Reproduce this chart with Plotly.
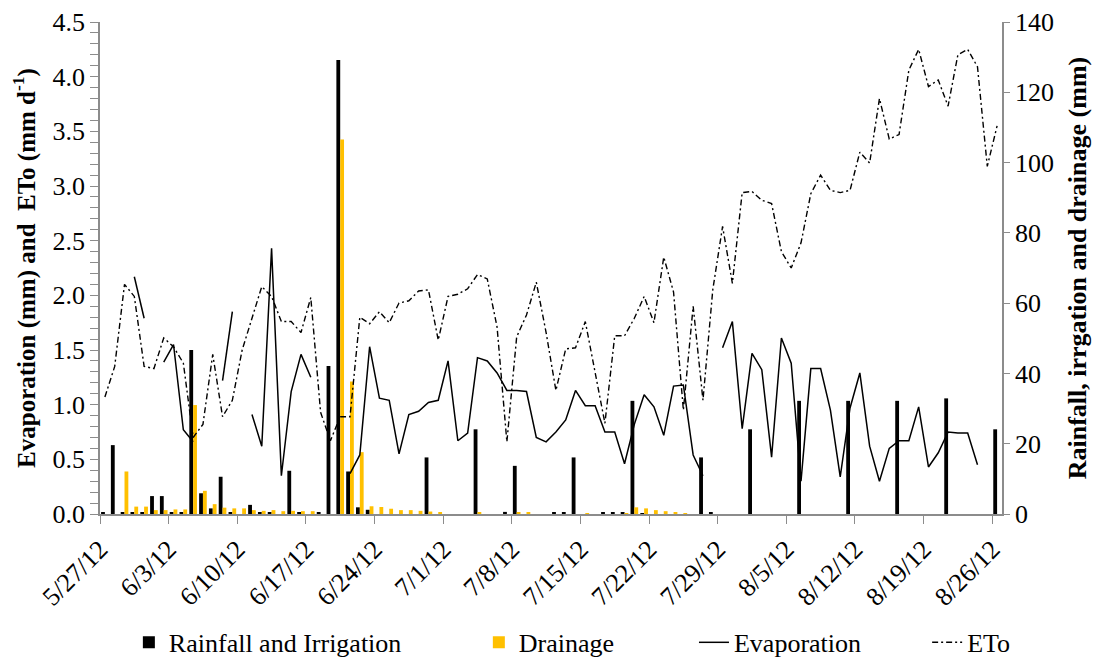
import plotly.graph_objects as go
import pandas as pd

start_date = "2012-05-27"
end_date = "2012-08-26"
dates = pd.date_range(start_date, end_date, freq="D")

# Rainfall and irrigation (mm), one value per day, right axis
rainfall_irrigation = [
    0.5, 19.6, 0.3, 0.3, 0.3, 5.1, 5.1,
    0.5, 0.3, 46.7, 5.9, 1.6, 10.6, 0.5,
    0, 2.6, 0.3, 0.3, 0, 12.3, 0.3,
    0, 0.3, 42.1, 129.2, 12.1, 1.9, 1.2,
    0, 0, 0, 0, 0, 16.1, 0,
    0, 0, 0, 24.1, 0, 0, 0.6,
    13.7, 0, 0, 0, 0.4, 0.4, 16.1,
    0, 0, 0.3, 0.3, 0.4, 32.2, 0.2,
    0, 0, 0, 0, 0, 16.1, 0.5,
    0, 0, 0, 24.1, 0, 0, 0,
    0, 32.2, 0, 0, 0, 0, 32.2,
    0, 0, 0, 0, 32.2, 0, 0,
    0, 0, 32.9, 0, 0, 0, 0,
    24.1,
]

# Drainage (mm), right axis
drainage = [
    0, 0, 12.1, 2.1, 2.1, 1.1, 1.1,
    1.3, 1.3, 31.0, 6.6, 2.8, 1.8, 1.6,
    1.6, 1.1, 0.9, 1.1, 0.8, 0.9, 0.8,
    0.8, 0, 0, 106.6, 37.7, 17.6, 2.2,
    2.0, 1.5, 1.1, 1.1, 0.9, 0.7, 0.3,
    0, 0, 0, 0.3, 0, 0, 0,
    0.3, 0.3, 0, 0, 0, 0, 0,
    0.1, 0, 0, 0, 0.2, 1.9, 1.6,
    1.1, 0.8, 0.4, 0.2, 0, 0, 0,
    0, 0, 0, 0, 0, 0, 0,
    0, 0, 0, 0, 0, 0, 0,
    0, 0, 0, 0, 0, 0, 0,
    0, 0, 0, 0, 0, 0, 0,
    0,
]

# Evaporation (mm), left axis; None = no measurement
evaporation = [
    None, None, None, 2.17, 1.79, None, 1.39,
    1.55, 0.77, 0.66, None, None, 1.22, 1.85,
    None, 0.91, 0.62, 2.43, 0.35, 1.12, 1.46,
    1.25, None, None, None, 0.37, 0.54, 1.53,
    1.06, 1.04, 0.55, 0.91, 0.94, 1.02, 1.04,
    1.40, 0.67, 0.74, 1.43, 1.40, 1.29, 1.13,
    1.13, 1.12, 0.70, 0.66, 0.75, 0.86, 1.13,
    0.99, 0.99, 0.75, 0.75, 0.46, 0.82, 1.09,
    0.98, 0.72, 1.17, 1.18, 0.54, 0.35, None,
    1.52, 1.76, 0.78, 1.47, 1.32, 0.52, 1.61,
    1.38, 0.30, 1.33, 1.33, 0.95, 0.34, 0.97,
    1.29, 0.62, 0.30, 0.60, 0.67, 0.67, 0.98,
    0.43, 0.56, 0.75, 0.74, 0.74, 0.45, None,
    None,
]

# Reference evapotranspiration ETo (mm d-1), left axis
eto = [
    1.07, 1.35, 2.10, 1.99, 1.35, 1.33, 1.61,
    1.53, 1.38, 0.70, 0.82, 1.46, 0.89, 1.04,
    1.50, 1.80, 2.08, 1.99, 1.76, 1.76, 1.66,
    1.98, 0.93, 0.67, 0.89, 0.89, 1.80, 1.74,
    1.85, 1.75, 1.93, 1.95, 2.04, 2.05, 1.59,
    1.99, 2.01, 2.06, 2.19, 2.15, 1.71, 0.66,
    1.62, 1.82, 2.12, 1.66, 1.13, 1.51, 1.52,
    1.76, 1.30, 0.83, 1.63, 1.63, 1.79, 1.99,
    1.75, 2.35, 2.03, 0.95, 1.90, 1.04, 2.05,
    2.63, 2.11, 2.94, 2.95, 2.87, 2.84, 2.40,
    2.25, 2.48, 2.93, 3.10, 2.96, 2.94, 2.96,
    3.31, 3.21, 3.80, 3.43, 3.47, 4.06, 4.25,
    3.91, 3.97, 3.73, 4.20, 4.25, 4.09, 3.18,
    3.55,
]

series_names = ["Rainfall and Irrigation", "Drainage", "Evaporation", "ETo"]
left_title = "<b>Evaporation (mm) and  ETo (mm d<sup>-1</sup>)</b>"
right_title = "<b>Rainfall, irrgation and drainage (mm)</b>"

FONT = "Liberation Serif"
GRAY = "#8c8c8c"
DAY_MS = 86400000

fig = go.Figure()
fig.add_trace(go.Bar(
    x=dates, y=rainfall_irrigation, name=series_names[0],
    marker=dict(color="#000000", line=dict(width=0)),
    xperiod=DAY_MS, xperiodalignment="middle", yaxis="y", legend="legend",
))
fig.add_trace(go.Bar(
    x=dates, y=drainage, name=series_names[1],
    marker=dict(color="#FFC000", line=dict(width=0)),
    xperiod=DAY_MS, xperiodalignment="middle", yaxis="y", legend="legend2",
))
fig.add_trace(go.Scatter(
    x=dates, y=evaporation, name=series_names[2], mode="lines",
    line=dict(color="#000000", width=1.5), connectgaps=False,
    xperiod=DAY_MS, xperiodalignment="middle", yaxis="y2", legend="legend3",
))
fig.add_trace(go.Scatter(
    x=dates, y=eto, name=series_names[3], mode="lines",
    line=dict(color="#000000", width=1.4, dash="6px,3px,2px,3px"), connectgaps=False,
    xperiod=DAY_MS, xperiodalignment="middle", yaxis="y2", legend="legend4",
))

legend_common = dict(orientation="h", xanchor="left", yanchor="middle", y=-0.261,
                     bgcolor="rgba(0,0,0,0)", font=dict(family=FONT, size=26, color="black"))

fig.update_layout(
    width=1096, height=651,
    margin=dict(l=92, r=102, t=14, b=145, autoexpand=False),
    paper_bgcolor="white", plot_bgcolor="white",
    font=dict(family=FONT, size=26, color="black"),
    barmode="group", bargap=0.22, bargroupgap=0,
    showlegend=True,
    legend=dict(x=0.032, **legend_common),
    legend2=dict(x=0.420, **legend_common),
    legend3=dict(x=0.6585, **legend_common),
    legend4=dict(x=0.917, **legend_common),
    xaxis=dict(
        type="date", range=[start_date, "2012-08-27"],
        tick0=start_date, dtick=7 * DAY_MS, tickformat="%-m/%-d/%y",
        tickangle=-45, ticks="outside", ticklen=8, tickcolor=GRAY,
        showline=True, linecolor=GRAY, linewidth=1.5,
        showgrid=False, zeroline=False, automargin=False,
        tickfont=dict(family=FONT, size=26, color="black"),
    ),
    yaxis=dict(
        side="right", range=[0, 140], dtick=20,
        ticks="outside", ticklen=6, tickcolor=GRAY,
        showline=True, linecolor=GRAY, linewidth=1.5,
        showgrid=False, zeroline=False, automargin=False,
        tickfont=dict(family=FONT, size=26, color="black"),
        title=dict(text=right_title, font=dict(family=FONT, size=26, color="black")),
    ),
    yaxis2=dict(
        side="left", overlaying="y", range=[0, 4.5], dtick=0.5, tickformat=".1f",
        ticks="outside", ticklen=8, tickcolor=GRAY,
        minor=dict(dtick=0.1, ticks="outside", ticklen=8, tickcolor=GRAY),
        showline=True, linecolor=GRAY, linewidth=1.5,
        showgrid=False, zeroline=False, automargin=False,
        tickfont=dict(family=FONT, size=26, color="black"),
        title=dict(text=left_title, font=dict(family=FONT, size=25, color="black")),
    ),
)

fig.write_html("out.html")
